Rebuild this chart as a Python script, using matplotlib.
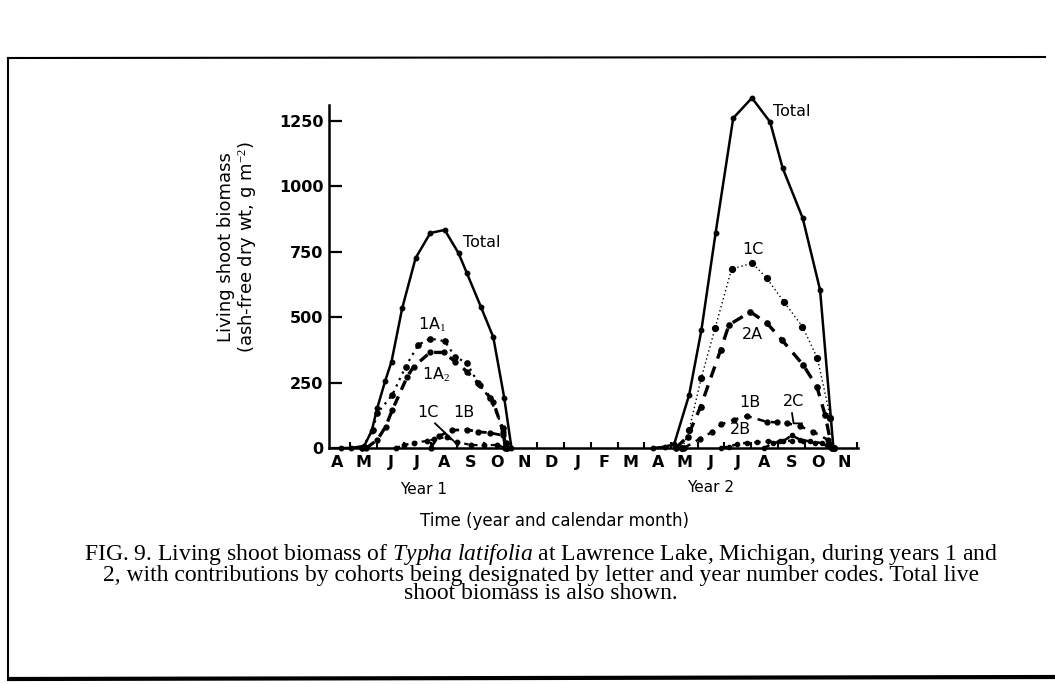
import matplotlib
matplotlib.use("Agg")
import matplotlib.pyplot as plt
from matplotlib.lines import Line2D

plt.rcParams['mathtext.fontset'] = 'custom'
plt.rcParams['mathtext.it'] = 'Liberation Serif:italic'
plt.rcParams['mathtext.rm'] = 'Liberation Serif'

# x in months: 0 = April (year 1) ... 19 = November (year 2)
month_labels = ["A", "M", "J", "J", "A", "S", "O", "N", "D", "J", "F", "M",
                "A", "M", "J", "J", "A", "S", "O", "N"]
y_ticks = [0, 250, 500, 750, 1000, 1250]

# ---- Year 1 ----
total1_x = [0.15, 0.52, 1.02, 1.30, 1.51, 1.80, 2.04, 2.44, 2.94, 3.49, 4.03, 4.55, 4.86, 5.39, 5.85, 6.26, 6.53]
total1_y = [0, 0, 8, 66, 154, 255, 330, 534, 725, 821, 833, 744, 668, 538, 423, 191, 0]

a1_x = [0.95, 1.33, 1.51, 2.07, 2.57, 3.04, 3.49, 4.03, 4.42, 4.86, 5.29, 5.72, 6.22, 6.31, 6.36]
a1_y = [0, 69, 133, 203, 311, 394, 418, 408, 349, 324, 247, 190, 75, 20, 0]

a2_x = [1.10, 1.51, 1.82, 2.07, 2.63, 2.87, 3.49, 3.99, 4.42, 4.86, 5.35, 5.85, 6.22, 6.31, 6.36]
a2_y = [0, 31, 82, 145, 273, 311, 365, 365, 330, 292, 241, 177, 62, 17, 0]

c1_yr1_x = [2.2, 2.5, 2.87, 3.37, 3.62, 4.1, 4.5, 5.0, 5.5, 6.0, 6.3]
c1_yr1_y = [0, 11, 20, 27, 33, 42, 22, 12, 10, 12, 0]

b1_yr1_x = [3.5, 3.8, 4.3, 4.86, 5.29, 5.72, 6.22, 6.3]
b1_yr1_y = [0, 45, 68, 70, 62, 58, 48, 0]

# ---- Year 2 ----
total2_x = [11.83, 12.28, 12.62, 13.18, 13.64, 14.17, 14.83, 15.53, 16.21, 16.68, 17.43, 18.08, 18.58]
total2_y = [0, 5, 15, 203, 451, 821, 1260, 1337, 1245, 1069, 878, 604, 0]

c1_yr2_x = [12.93, 13.18, 13.63, 14.15, 14.77, 15.55, 16.08, 16.72, 17.42, 17.98, 18.47, 18.59]
c1_yr2_y = [0, 70, 266, 457, 684, 706, 649, 559, 464, 343, 114, 0]

a2yr2_x = [12.68, 13.12, 13.61, 14.36, 14.67, 15.47, 16.09, 16.65, 17.45, 17.96, 18.27, 18.52]
a2yr2_y = [0, 43, 158, 375, 470, 520, 477, 413, 317, 234, 126, 0]

b1_yr2_x = [12.98, 13.58, 14.02, 14.38, 14.85, 15.35, 16.08, 16.46, 16.83, 17.33, 17.83, 18.39, 18.54]
b1_yr2_y = [0, 35, 60, 90, 108, 122, 100, 98, 95, 83, 62, 30, 0]

b2_x = [14.38, 14.67, 14.98, 15.35, 15.72, 16.15, 16.58, 17.02, 17.45, 17.9, 18.33, 18.49]
b2_y = [0, 5, 15, 20, 22, 25, 25, 28, 25, 20, 10, 0]

c2_x = [15.98, 16.33, 16.68, 17.02, 17.33, 17.7, 18.14, 18.39, 18.54]
c2_y = [0, 19, 25, 48, 32, 25, 19, 13, 0]

W, H = 1055, 684
fig = plt.figure(figsize=(W / 100, H / 100), dpi=100)
fig.patch.set_facecolor("white")

ax = fig.add_axes([329 / W, 1 - 448 / H, (858 - 329) / W, (448 - 105) / H])
ax.set_xlim(-0.3, 19.5)
ax.set_ylim(0, 1310)
for s in ["top", "right"]:
    ax.spines[s].set_visible(False)
for s in ["left", "bottom"]:
    ax.spines[s].set_linewidth(1.8)
    ax.spines[s].set_color("black")

tick_font = dict(family="DejaVu Sans", weight="bold", size=11.5)
ax.set_yticks(y_ticks)
ax.set_yticklabels([str(v) for v in y_ticks], fontdict=tick_font)
ax.tick_params(axis="y", direction="in", length=9, width=1.6, pad=4)
ax.set_xticks(range(len(month_labels)))
ax.set_xticklabels(month_labels, fontdict=tick_font)
ax.tick_params(axis="x", which="major", length=0, pad=5)
ax.set_xticks([m + 0.5 for m in range(0, 19)] + [19.45], minor=True)
ax.tick_params(axis="x", which="minor", direction="in", length=4, width=1.5)

k = dict(color="black", clip_on=False)
# Total
ax.plot(total1_x, total1_y, "-", lw=1.8, marker="o", ms=3.2, **k)
ax.plot(total2_x, total2_y, "-", lw=1.8, marker="o", ms=3.2, **k)
# 1A1 (dotted with dots)
ax.plot(a1_x, a1_y, linestyle=(0, (1, 2.2)), lw=1.6, marker="o", ms=3.8, **k)
# 1A2 (heavy dashes)
ax.plot(a2_x, a2_y, linestyle=(0, (3, 2.2)), lw=2.4, marker="o", ms=3.5, **k)
# 1C
ax.plot(c1_yr1_x, c1_yr1_y, linestyle=(0, (2, 2)), lw=1.6, marker="o", ms=3.2, **k)
ax.plot(c1_yr2_x, c1_yr2_y, linestyle=(0, (1, 2)), lw=1.0, marker="o", ms=4.2, **k)
# 1B
ax.plot(b1_yr1_x, b1_yr1_y, linestyle=(0, (3, 2)), lw=2.0, marker="o", ms=3.5, **k)
ax.plot(b1_yr2_x, b1_yr2_y, linestyle=(0, (3, 2.5)), lw=1.8, marker="o", ms=3.5, **k)
# 2A
ax.plot(a2yr2_x, a2yr2_y, linestyle=(0, (3.5, 2.5)), lw=2.4, marker="o", ms=3.8, **k)
# 2B, 2C
ax.plot(b2_x, b2_y, linestyle=(0, (2.5, 2)), lw=1.8, marker="o", ms=3.0, **k)
ax.plot(c2_x, c2_y, linestyle=(0, (2.5, 2)), lw=1.8, marker="o", ms=3.0, **k)

lab = dict(family="DejaVu Sans", size=11.5, ha="left", va="center")
ax.text(4.72, 784, "Total", **lab)
ax.text(16.33, 1285, "Total", **lab)
ax.text(3.03, 470, "1A$_1$", **lab)
ax.text(3.18, 279, "1A$_2$", **lab)
ax.text(3.0, 134, "1C", **lab)
ax.text(4.34, 134, "1B", **lab)
ax.text(15.17, 757, "1C", **lab)
ax.text(15.17, 432, "2A", **lab)
ax.text(15.06, 175, "1B", **lab)
ax.text(16.7, 177, "2C", **lab)
ax.text(14.72, 69, "2B", **lab)
# leader lines
ax.plot([3.67, 4.53], [94, 11], "-", color="black", lw=1.3)
ax.plot([17.03, 17.09, 17.4], [133, 94, 94], "-", color="black", lw=1.3)

# axis texts
fig.text(238 / W, 1 - 247 / H, "Living shoot biomass\n(ash-free dry wt, g m$^{-2}$)",
         rotation=90, ha="center", va="center", family="DejaVu Sans", size=13,
         linespacing=1.0)
fig.text(424 / W, 1 - 490 / H, "Year 1", ha="center", va="center", family="DejaVu Sans", size=11)
fig.text(711 / W, 1 - 487 / H, "Year 2", ha="center", va="center", family="DejaVu Sans", size=11)
fig.text(555 / W, 1 - 521 / H, "Time (year and calendar month)", ha="center", va="center",
         family="DejaVu Sans", size=12)

caption = ("FIG. 9. Living shoot biomass of $\\mathit{Typha\\ latifolia}$ at Lawrence Lake, Michigan, during years 1 and\n"
           "2, with contributions by cohorts being designated by letter and year number codes. Total live\n"
           "shoot biomass is also shown.")
fig.text(541 / W, 1 - 573 / H, caption, ha="center", va="center", family="Liberation Serif",
         size=17.0, linespacing=0.86)

# scanned page border
fig.add_artist(Line2D([8 / W, 8 / W], [1 - 58 / H, 1 - 680 / H], color="black", lw=1.5))
fig.add_artist(Line2D([8 / W, 1045 / W], [1 - 58 / H, 1 - 57 / H], color="black", lw=1.5))
fig.add_artist(Line2D([10 / W, 1055 / W], [1 - 679 / H, 1 - 677 / H], color="black", lw=3))

fig.savefig("out.png", dpi=100)
